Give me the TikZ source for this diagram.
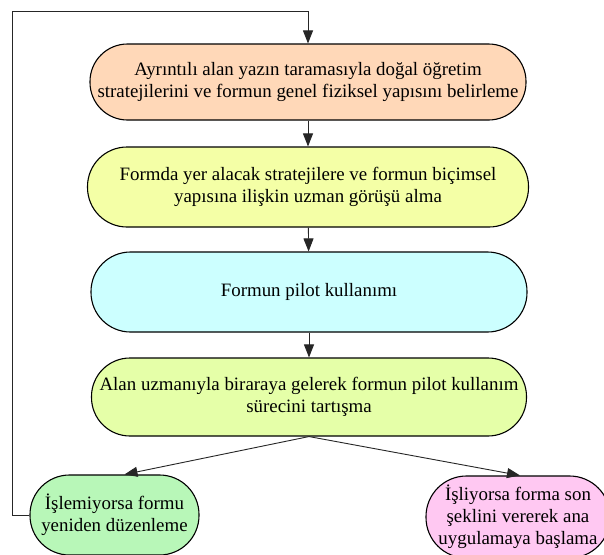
\documentclass[tikz,border=0pt]{standalone}
\usepackage{fontspec}
\setmainfont{Liberation Serif}
\usetikzlibrary{arrows.meta}
\definecolor{cPeach}{HTML}{FFD8B8}
\definecolor{cYellow}{HTML}{F4FFA6}
\definecolor{cCyan}{HTML}{CCFFFF}
\definecolor{cLime}{HTML}{E5FFA8}
\definecolor{cGreen}{HTML}{B8F7B8}
\definecolor{cPink}{HTML}{FFC8F2}
\tikzset{
  stadium/.style={draw=black, line width=1.1pt, align=center, inner sep=0pt,
    font=\fontsize{18.9}{22}\selectfont},
  conn/.style={line width=0.9pt, draw=black!85, -{Triangle[length=13pt,width=10pt]}},
}
\begin{document}
\begin{tikzpicture}[x=1pt,y=-1pt]
\useasboundingbox (0,0) rectangle (604,554);
\clip (0,0) rectangle (604,554);
\fill[white] (0,0) rectangle (604,554);
\node[stadium, fill=cPeach, minimum width=436pt, minimum height=76pt, rounded corners=37.5pt] (n1) at (308,82)
  {Ayrıntılı alan yazın taramasıyla doğal öğretim\\stratejilerini ve formun genel fiziksel yapısını belirleme};
\node[stadium, fill=cYellow, minimum width=441pt, minimum height=80pt, rounded corners=39.5pt] (n2) at (308,187)
  {Formda yer alacak stratejilere ve formun biçimsel\\yapısına ilişkin uzman görüşü alma};
\node[stadium, fill=cCyan, minimum width=436pt, minimum height=80pt, rounded corners=39.5pt] (n3) at (309,292)
  {Formun pilot kullanımı};
\node[stadium, fill=cLime, minimum width=435pt, minimum height=78pt, rounded corners=38.5pt] (n4) at (309,397)
  {Alan uzmanıyla biraraya gelerek formun pilot kullanım\\sürecini tartışma};
\node[stadium, fill=cGreen, minimum width=169pt, minimum height=80pt, rounded corners=39.5pt] (bl) at (114.5,515)
  {İşlemiyorsa formu\\yeniden düzenleme};
\node[stadium, fill=cPink, minimum width=184pt, minimum height=82pt, rounded corners=40.5pt] (br) at (518,517)
  {İşliyorsa forma son\\şeklini vererek ana\\uygulamaya başlama};
\coordinate (corner) at (12,11);
\draw[conn] (bl.west) -| (corner) -| (n1.north);
\draw[conn] (n1) -- (n2);
\draw[conn] (n2) -- (n3);
\draw[conn] (n3) -- (n4);
\draw[conn] (n4.south) -- ([xshift=10pt]bl.north);
\draw[conn] (n4.south) -- ([xshift=2pt]br.north);
\end{tikzpicture}
\end{document}
